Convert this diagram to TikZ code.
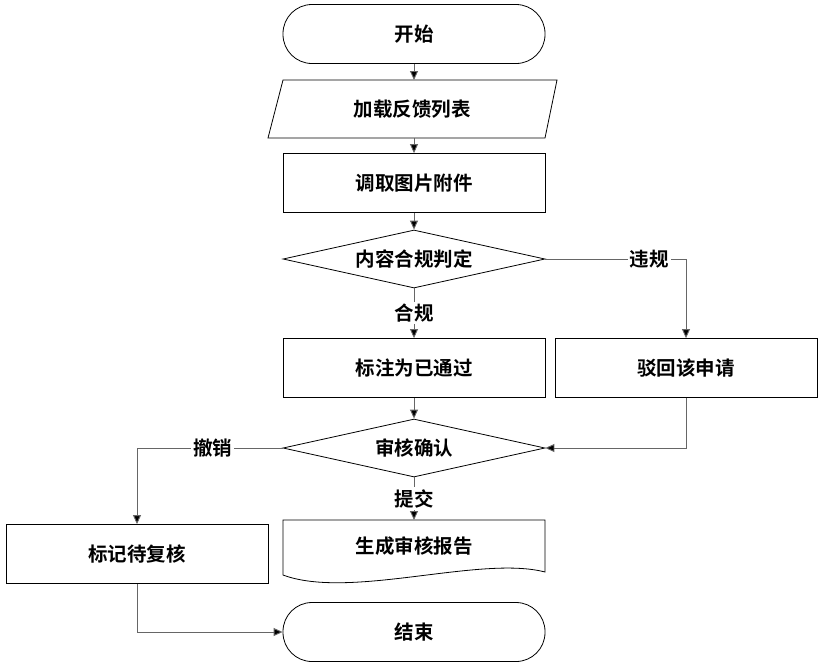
\documentclass[tikz,border=0pt]{standalone}
\usepackage{fontspec}
\newfontfamily\cjk{Noto Sans CJK SC}[BoldFont={Noto Sans CJK SC Bold}]
\usetikzlibrary{shapes.geometric,arrows.meta}
\begin{document}
\begin{tikzpicture}[x=1pt,y=-1pt,
  every node/.style={font=\cjk\bfseries\fontsize{19.5}{20}\selectfont},
  box/.style={draw,thick,minimum width=262pt,minimum height=59pt},
  term/.style={box,rounded corners=29pt},
  dia/.style={draw,thick,diamond,aspect=4.5,minimum width=262pt,minimum height=58pt,inner sep=0pt},
  lab/.style={fill=white,inner sep=2pt,text=black},
  ar/.style={-{Triangle[length=9pt,width=8pt,fill=black]},line width=0.9pt,black!60}]
\useasboundingbox (0,0) rectangle (821,665);
\node[term] (start) at (414,34) {开始};
\draw[thick] (283,80) -- (557,80) -- (545,138) -- (268,138) -- cycle;
\node (load) at (412,109) {加载反馈列表};
\coordinate (loadt) at (414,80); \coordinate (loadb) at (414,138);
\node[box] (fetch) at (414,183) {调取图片附件};
\node[dia] (judge) at (414,259) {内容合规判定};
\node[box] (pass) at (414,368) {标注为已通过};
\node[box] (reject) at (686,368) {驳回该申请};
\node[dia] (confirm) at (414,448) {审核确认};
\node[box] (mark) at (137,554) {标记待复核};
\draw[thick] (283,520) -- (545,520) -- (545,572) .. controls (480,555) and (350,600) .. (283,575) -- cycle;
\node (report) at (414,546) {生成审核报告};
\coordinate (rept) at (414,520);
\node[term] (end) at (414,632) {结束};

\draw[ar] (start) -- (loadt);
\draw[ar] (loadb) -- (fetch);
\draw[ar] (fetch) -- (judge);
\draw[ar] (judge) -- node[lab]{合规} (pass);
\draw[ar] (judge.east) -| node[lab,pos=0.37]{违规} (reject);
\draw[ar] (pass) -- (confirm);
\draw[ar] (reject.south) |- (confirm.east);
\draw[ar] (confirm.west) -| node[lab,pos=0.24]{撤销} (mark);
\draw[ar] (confirm) -- node[lab]{提交} (rept);
\draw[ar] (mark.south) |- (end.west);
\end{tikzpicture}
\end{document}
